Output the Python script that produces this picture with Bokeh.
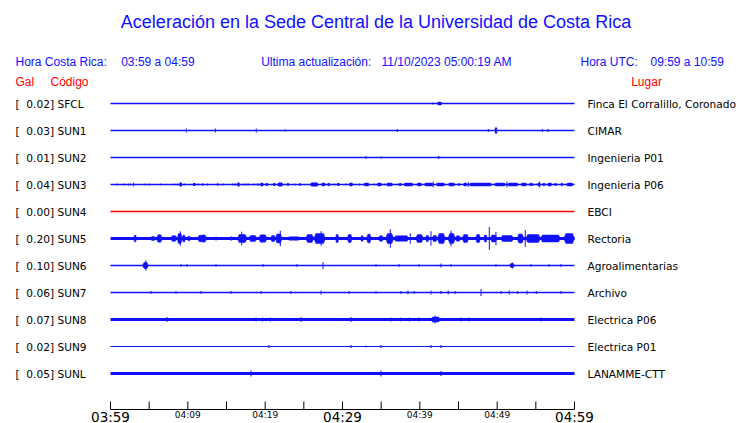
from bokeh.plotting import figure
from bokeh.models import Range1d, FixedTicker, ColumnDataSource
from bokeh.core.properties import value
from bokeh.embed import file_html
from bokeh.resources import INLINE

# ---------------- data ----------------
title_text = "Aceleración en la Sede Central de la Universidad de Costa Rica"
hdr_cr_label = "Hora Costa Rica:"
hdr_cr_value = "03:59 a 04:59"
hdr_upd_label = "Ultima actualización:"
hdr_upd_value = "11/10/2023 05:00:19 AM"
hdr_utc_label = "Hora UTC:"
hdr_utc_value = "09:59 a 10:59"

codes = ["SFCL", "SUN1", "SUN2", "SUN3", "SUN4", "SUN5",
         "SUN6", "SUN7", "SUN8", "SUN9", "SUNL"]
gal = [0.02, 0.03, 0.01, 0.04, 0.00, 0.20, 0.10, 0.06, 0.07, 0.02, 0.05]
places = ["Finca El Corralillo, Coronado", "CIMAR", "Ingenieria P01",
          "Ingenieria P06", "EBCI", "Rectoria", "Agroalimentarias",
          "Archivo", "Electrica P06", "Electrica P01", "LANAMME-CTT"]

tick_minutes = [0, 5, 10, 15, 20, 25, 30, 35, 40, 45, 50, 55, 60]
small_tick_minutes = [10, 20, 40, 50]
small_tick_labels = ["04:09", "04:19", "04:39", "04:49"]
big_tick_minutes = [0, 30, 60]
big_tick_labels = ["03:59", "04:29", "04:59"]

# bursts: (start minute, end minute, half amplitude)
sfcl = [(41.6, 41.6, 1.0), (42.2, 42.9, 1.5)]
sun1 = [(9.74, 9.74, 2), (13.49, 13.49, 2), (18.79, 18.79, 2), (22.54, 22.54, 1),
        (37.02, 37.02, 1.5), (48.79, 48.79, 1.5), (49.7, 50.0, 3),
        (55.77, 55.77, 1.5), (56.51, 56.51, 1.5)]
sun2 = [(32.97, 32.97, 1.5), (34.95, 34.95, 1), (42.38, 42.38, 1.5)]
sun3 = [(0.78, 0.78, 1), (1.72, 1.72, 1), (2.24, 2.24, 1), (2.5, 2.5, 1), (2.94, 2.94, 2),
        (4.44, 4.44, 1), (4.95, 4.95, 1), (6.38, 6.38, 1), (8.19, 8.19, 1), (8.62, 8.62, 1),
        (8.88, 9.27, 1.8), (9.48, 9.48, 1), (10.69, 10.99, 1.5), (11.29, 11.29, 1),
        (11.86, 11.86, 1.5), (12.5, 12.5, 1), (13.8, 13.8, 1.5), (14.52, 14.52, 1),
        (15.74, 15.74, 1), (16.07, 16.07, 1.2), (16.38, 16.72, 1.8), (17.16, 17.16, 1),
        (17.5, 17.5, 1), (17.75, 17.75, 1), (18.53, 18.53, 1), (18.97, 18.97, 1.5),
        (19.31, 19.82, 1.5), (20.08, 20.34, 1.5), (21.04, 21.3, 1.5), (21.56, 22.33, 1.8),
        (22.85, 23.06, 1.5), (23.79, 23.79, 1), (24.4, 24.57, 1.5), (25.77, 26.94, 1.8),
        (27.25, 27.8, 1.5), (28.02, 28.45, 1.2), (28.88, 28.88, 1), (29.32, 29.61, 1.5),
        (30.39, 30.39, 1), (30.81, 31.38, 1.5), (32.11, 32.11, 1), (32.68, 33.53, 1.5),
        (34.05, 34.05, 1), (34.4, 35.13, 1.5), (35.34, 35.34, 1), (35.6, 36.56, 1.5),
        (37.07, 37.07, 1), (37.33, 37.59, 1.5), (37.85, 39.22, 1.5), (39.57, 40.31, 1.5),
        (40.51, 41.81, 1.5), (41.66, 41.66, 3), (42.03, 43.32, 1.5), (43.62, 44.61, 1.5),
        (44.91, 45.26, 1), (45.61, 46.13, 1.5), (46.19, 46.19, 2.5), (46.33, 49.36, 1.5),
        (49.57, 51.17, 1.5), (51.21, 51.21, 3), (51.3, 52.8, 1.5), (53.02, 53.88, 1.5),
        (54.09, 54.74, 1.2), (55.18, 55.6, 1.5), (55.43, 55.43, 3), (55.82, 56.25, 1.2),
        (56.47, 57.12, 1.5), (57.32, 57.76, 1), (58.19, 58.54, 1.2), (58.88, 59.91, 1.5)]
sun4 = []
sun5 = [(3.01, 3.36, 3.3), (5.17, 5.82, 2), (5.95, 6.69, 3.7), (7.76, 8.62, 2.8),
        (8.62, 9.27, 5), (8.96, 8.96, 7.3), (9.27, 9.7, 3.3), (9.96, 10.34, 2.3),
        (11.21, 12.5, 3.3), (11.9, 12.2, 3.7), (13.58, 13.58, 2), (15.52, 15.74, 2),
        (16.38, 17.68, 4), (16.9, 16.9, 6.7), (17.85, 18.97, 3), (19.14, 20.26, 3.7),
        (20.69, 21.34, 3), (21.3, 22.2, 4.5), (21.89, 21.89, 7.7), (22.85, 24.57, 1.7),
        (25.22, 26.3, 4), (26.3, 27.8, 5), (27.16, 27.16, 7.3), (29.1, 29.52, 4),
        (30.61, 31.25, 4), (32.33, 32.72, 2.7), (33.1, 33.72, 4), (33.4, 33.4, 5),
        (34.66, 35.3, 2.7), (35.56, 36.63, 5), (36.12, 36.12, 9.3), (36.63, 38.6, 2.7),
        (38.7, 38.7, 5.3), (39.44, 40.47, 4), (40.73, 41.2, 3), (41.38, 41.38, 7.3),
        (41.6, 42.25, 3), (42.25, 43.32, 5), (43.62, 44.61, 5), (43.97, 43.97, 7.8),
        (44.61, 45.26, 2.7), (45.48, 46.33, 4), (47.2, 47.85, 4), (48.27, 48.7, 3.5),
        (48.92, 48.92, 11.5), (49.1, 50.0, 3.5), (49.78, 49.78, 6.7), (50.43, 52.15, 3),
        (52.59, 53.45, 4.5), (53.57, 53.57, 8.5), (53.7, 55.6, 4), (55.6, 58.19, 3.5),
        (58.62, 60.0, 5)]
sun6 = [(4.14, 4.91, 3), (4.5, 4.5, 5), (9.05, 9.05, 1.5), (9.83, 9.83, 1.5),
        (13.58, 13.58, 1.5), (19.66, 19.66, 1.5), (24.05, 24.05, 1.5), (27.41, 27.41, 3.5),
        (34.27, 34.27, 1.5), (37.24, 37.24, 1.5), (39.83, 39.83, 1.5), (42.67, 42.67, 2),
        (43.97, 43.97, 1.5), (49.78, 49.78, 1.5), (51.6, 52.24, 2), (51.9, 51.9, 3),
        (54.31, 54.31, 1.5), (56.64, 56.64, 1.5), (58.19, 58.19, 1.5)]
sun7 = [(5.17, 5.17, 1.5), (8.41, 8.41, 1.5), (11.64, 11.64, 1.5), (15.52, 15.52, 1.5),
        (19.4, 19.4, 1.5), (23.28, 23.28, 1.5), (27.16, 27.16, 2), (30.78, 30.78, 1.5),
        (34.27, 34.27, 1.5), (37.5, 37.5, 1.5), (38.4, 38.4, 2), (39.2, 39.2, 1.5),
        (41.38, 41.38, 2), (42.67, 42.67, 1.5), (43.6, 43.6, 2), (44.5, 44.5, 1.5),
        (47.85, 47.85, 3.5), (50.43, 50.43, 1.5), (51.5, 51.5, 2), (52.6, 52.6, 1.5),
        (53.8, 53.8, 2), (55.0, 55.0, 1.5), (58.19, 58.19, 1.5)]
sun8 = [(7.24, 7.24, 2.5), (18.75, 18.75, 2), (19.6, 19.6, 2), (20.6, 20.6, 2),
        (24.57, 24.57, 2.5), (31.03, 31.03, 2.5), (36.21, 36.21, 2), (37.4, 37.4, 2),
        (38.6, 38.6, 2), (39.8, 39.8, 2), (41.38, 42.67, 2.5), (41.9, 41.9, 4),
        (45.26, 45.26, 2), (46.3, 46.3, 2), (55.6, 55.6, 2)]
sun9 = [(20.43, 20.43, 1.5), (31.03, 31.03, 1.5), (32.97, 32.97, 1), (34.91, 34.91, 1.5),
        (41.38, 41.38, 1.5), (42.67, 42.67, 1.5)]
sunl = [(18.1, 18.1, 3), (34.91, 34.91, 3), (42.67, 42.67, 2.5)]

bursts = [sfcl, sun1, sun2, sun3, sun4, sun5, sun6, sun7, sun8, sun9, sunl]

# ---------------- styling / layout ----------------
BLUE = "#1010ff"
RED = "#ff0000"
trace_color = [BLUE, BLUE, BLUE, BLUE, RED, BLUE, BLUE, BLUE, BLUE, BLUE, BLUE]
base_width = [1.5, 1.5, 1.5, 1.5, 1.5, 3.0, 1.5, 1.5, 3.0, 1.0, 3.0]

W, H = 740, 423
AXIS_PAGE_Y = 409          # page y of the time axis line
TICK_LEN = 8
PX_PER_MIN = 464 / 60.0
ROW_PX = 27.0
ROW0_PAGE_Y = 103.0
T0_PAGE_X = 110.0


def X(page_x):
    return (page_x - T0_PAGE_X) / PX_PER_MIN


def Y(page_y):
    return (ROW0_PAGE_Y - page_y) / ROW_PX


p = figure(width=W, height=H, output_backend="svg", toolbar_location=None,
           x_range=Range1d(X(0), X(W)), y_range=Range1d(Y(H), Y(0)),
           y_axis_location=None, min_border_left=0, min_border_right=0,
           min_border_top=0, min_border_bottom=0)
p.outline_line_color = None
p.grid.visible = False
p.background_fill_color = "white"
p.border_fill_color = "white"

# time axis: provides the small hour labels, lifted up under the drawn axis line
ax = p.xaxis[0]
ax.ticker = FixedTicker(ticks=tick_minutes)
ax.major_tick_in = 0
ax.major_tick_out = 0
ax.major_tick_line_color = None
ax.minor_tick_line_color = None
ax.axis_line_color = None
ax.major_label_standoff = -14
ax.major_label_text_font = "DejaVu Sans"
ax.major_label_text_font_size = "9px"
ax.major_label_text_color = "black"
ov = {m: "" for m in tick_minutes}
for m, t in zip(small_tick_minutes, small_tick_labels):
    ov[m] = t
ax.major_label_overrides = ov

# axis line and ticks over the time span
p.segment(x0=[0], x1=[60], y0=[Y(AXIS_PAGE_Y)], y1=[Y(AXIS_PAGE_Y)],
          line_color="black", line_width=1)
p.segment(x0=tick_minutes, x1=tick_minutes,
          y0=[Y(AXIS_PAGE_Y)] * len(tick_minutes),
          y1=[Y(AXIS_PAGE_Y - TICK_LEN)] * len(tick_minutes),
          line_color="black", line_width=1)

# large hour labels
p.text(x=big_tick_minutes, y=[Y(416)] * len(big_tick_minutes), text=big_tick_labels,
       text_color="black", text_font=value("DejaVu Sans"), text_font_size="13.5px",
       text_align="center", text_baseline="middle")

# traces: base lines, thin spikes, and tapered burst envelopes
base = dict(x0=[], x1=[], y=[], c=[], w=[])
qd = dict(l=[], r=[], t=[], b=[], c=[])
env = dict(xs=[], ys=[], c=[])
one_px = 1.0 / PX_PER_MIN
for i, code in enumerate(codes):
    yc = -i
    base["x0"].append(0)
    base["x1"].append(60)
    base["y"].append(yc)
    base["c"].append(trace_color[i])
    base["w"].append(base_width[i])
    for (t0, t1, a) in bursts[i]:
        h = a / ROW_PX
        if t1 - t0 < 2.5 * one_px:
            t1 = max(t1, t0 + one_px)
            qd["l"].append(t0)
            qd["r"].append(t1)
            qd["t"].append(yc + h)
            qd["b"].append(yc - h)
            qd["c"].append(trace_color[i])
        else:
            d = min(0.25 * (t1 - t0), 2 * one_px)
            env["xs"].append([t0, t0 + d, t1 - d, t1, t1 - d, t0 + d])
            env["ys"].append([yc, yc + h, yc + h, yc, yc - h, yc - h])
            env["c"].append(trace_color[i])

p.segment(x0="x0", x1="x1", y0="y", y1="y", line_color="c", line_width="w",
          source=ColumnDataSource(base))
p.patches(xs="xs", ys="ys", fill_color="c", line_color="c", line_width=0.5,
          source=ColumnDataSource(env))
p.quad(left="l", right="r", top="t", bottom="b", fill_color="c", line_color=None,
       source=ColumnDataSource(qd))


def add_text(texts, xs, ys, color, font, size, align="left"):
    src = ColumnDataSource(dict(x=[X(v) for v in xs], y=[Y(v) for v in ys], t=texts))
    p.text(x="x", y="y", text="t", source=src, text_color=color,
           text_font=value(font), text_font_size=size, text_align=align,
           text_baseline="middle")


# title & headers
add_text([title_text], [375.5], [21], BLUE, "Liberation Sans", "18px", "center")
add_text([hdr_cr_label, hdr_cr_value, hdr_upd_label, hdr_upd_value,
          hdr_utc_label, hdr_utc_value],
         [15, 120.7, 260.7, 381, 580, 650], [61] * 6, BLUE, "Liberation Sans", "12px")
add_text(["Gal", "Código", "Lugar"], [15, 50, 630.7], [81] * 3, RED,
         "Liberation Sans", "12px")

# station labels
NB = "\u00a0"
row_y = [ROW0_PAGE_Y + ROW_PX * i for i in range(len(codes))]
left_txt = ["[" + NB + NB + "%.2f] %s" % (g, c) for g, c in zip(gal, codes)]
add_text(left_txt, [15] * len(codes), row_y, "black", "DejaVu Sans", "10.6px")
add_text(places, [587] * len(codes), row_y, "black", "DejaVu Sans", "10.6px")

open("out.html", "w").write(file_html(p, INLINE))
